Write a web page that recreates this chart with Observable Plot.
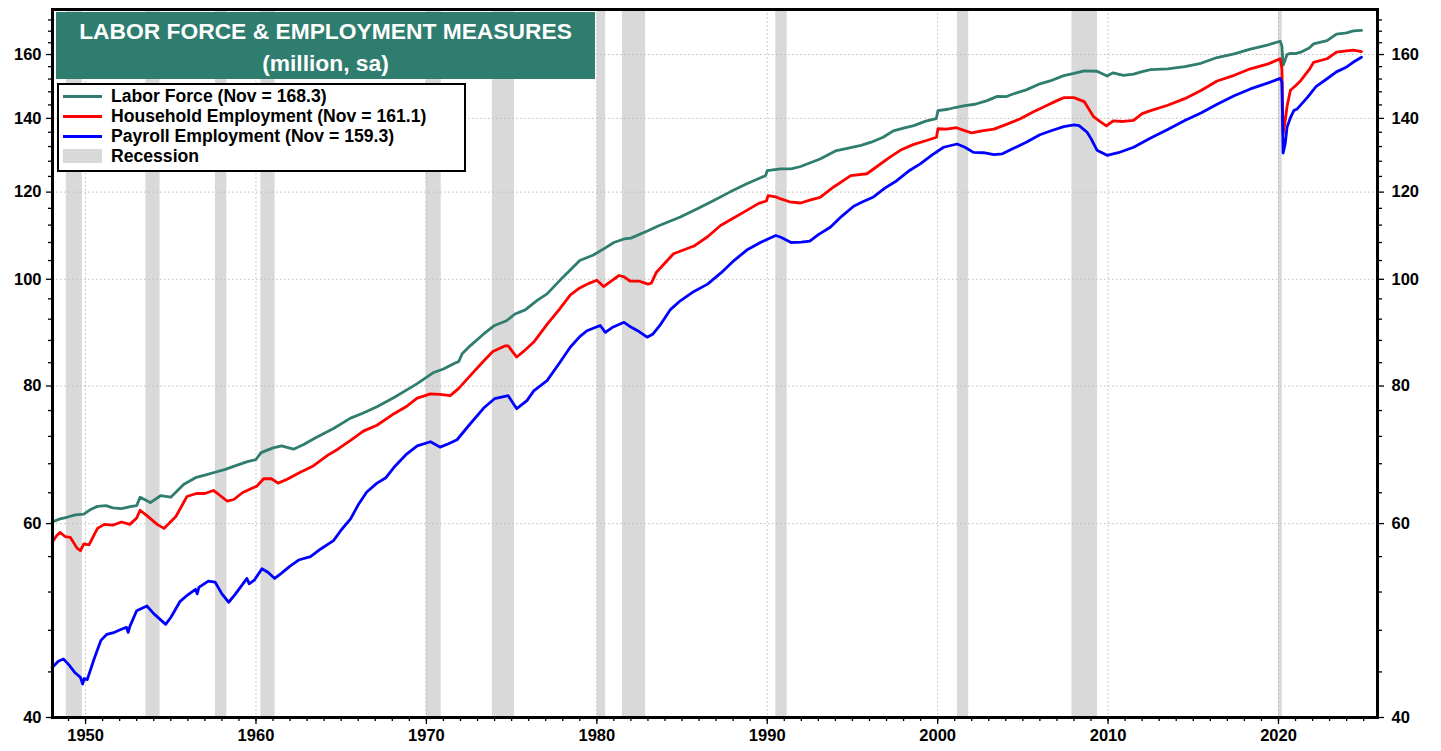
<!DOCTYPE html>
<html><head><meta charset="utf-8">
<script src="https://cdn.jsdelivr.net/npm/d3@7"></script>
<script src="https://cdn.jsdelivr.net/npm/@observablehq/plot@0.6"></script>
<style>
body{margin:0;background:#fff;font-family:"Liberation Sans",Arial,sans-serif;}
#wrap{position:relative;width:1441px;height:751px;overflow:hidden;}
#title{position:absolute;left:56px;top:12px;width:539px;height:67px;background:#2e7d6e;color:#fff;font-weight:bold;font-size:22.8px;text-align:center;line-height:32px;padding-top:3px;box-sizing:border-box;}
#legend{position:absolute;left:57px;top:83px;width:409px;height:89px;border:2px solid #000;background:#fff;box-sizing:border-box;padding-top:1px;}
.row{position:relative;height:20px;line-height:20px;font-weight:bold;font-size:17.6px;color:#000;padding-left:52px;white-space:nowrap;}
.sw{position:absolute;left:4px;top:9px;width:39px;height:3px;}
.sw.box{top:3px;height:14px;}
</style></head>
<body><div id="wrap"><div id="chart"></div>
<div id="title">LABOR FORCE &amp; EMPLOYMENT MEASURES<br>(million, sa)</div>
<div id="legend"></div></div>
<script>
const seriesNames = ["Labor Force (Nov = 168.3)", "Household Employment (Nov = 161.1)", "Payroll Employment (Nov = 159.3)"];
const seriesColors = ["#2e7d6e", "#ff0000", "#0000ff"];
const recessionLabel = "Recession";
const recessionColor = "#d9d9d9";

const laborForce = [[1948.04,60.2],[1948.5,60.6],[1948.9,60.8],[1949.4,61.1],[1949.9,61.2],[1950.3,61.8],[1950.7,62.2],[1951.2,62.3],[1951.6,62.0],[1952.1,61.9],[1952.7,62.2],[1953.0,62.3],[1953.2,63.4],[1953.8,62.7],[1954.4,63.6],[1955.0,63.4],[1955.75,65.1],[1956.5,66.1],[1957.0,66.4],[1957.6,66.8],[1958.2,67.2],[1958.9,67.8],[1959.5,68.3],[1960.0,68.6],[1960.3,69.6],[1961.0,70.3],[1961.5,70.6],[1962.2,70.1],[1962.8,70.8],[1963.5,71.8],[1964.55,73.2],[1965.55,74.8],[1966.3,75.6],[1967.1,76.6],[1968.1,78.1],[1969.0,79.6],[1969.46,80.4],[1970.43,82.3],[1971.0,82.9],[1971.6,83.8],[1971.9,84.2],[1972.1,85.6],[1972.6,87.1],[1973.36,89.2],[1974.0,90.8],[1974.7,91.7],[1975.2,93.0],[1975.8,93.8],[1976.5,95.7],[1977.08,97.0],[1978.0,100.4],[1979.0,104.0],[1979.8,105.2],[1980.5,106.8],[1981.0,108.0],[1981.6,108.8],[1982.0,109.0],[1983.0,110.7],[1983.6,111.8],[1984.9,113.9],[1985.9,115.9],[1986.86,117.9],[1987.8,120.0],[1988.8,122.1],[1989.9,124.2],[1990.0,125.5],[1990.79,126.0],[1991.4,126.0],[1991.96,126.6],[1993.1,128.6],[1994.0,130.8],[1994.7,131.5],[1995.5,132.3],[1996.1,133.2],[1996.8,134.6],[1997.4,136.4],[1998.0,137.2],[1998.6,137.9],[1999.3,139.2],[1999.92,139.9],[2000.02,142.3],[2000.6,142.7],[2001.1,143.3],[2001.6,143.8],[2002.2,144.2],[2002.9,145.3],[2003.5,146.6],[2004.0,146.5],[2004.46,147.4],[2005.2,148.6],[2006.0,150.5],[2006.6,151.4],[2007.4,153.1],[2008.0,153.8],[2008.6,154.6],[2009.35,154.5],[2009.94,153.0],[2010.3,154.0],[2010.9,153.2],[2011.5,153.6],[2012.0,154.4],[2012.5,155.0],[2013.5,155.3],[2014.5,156.0],[2015.45,157.1],[2016.4,159.0],[2017.4,160.2],[2018.35,161.8],[2019.4,163.3],[2020.1,164.5],[2020.2,162.9],[2020.27,156.5],[2020.4,158.3],[2020.5,160.0],[2020.7,160.4],[2021.0,160.3],[2021.3,160.8],[2021.8,162.2],[2022.06,163.6],[2022.85,164.7],[2023.4,167.0],[2024.0,167.4],[2024.4,168.1],[2024.87,168.3]];

const householdEmployment = [[1948.04,57.7],[1948.3,58.5],[1948.5,58.9],[1948.8,58.4],[1949.1,58.3],[1949.5,57.0],[1949.7,56.7],[1949.9,57.5],[1950.2,57.4],[1950.7,59.4],[1951.1,59.9],[1951.6,59.8],[1952.1,60.2],[1952.6,59.9],[1953.0,60.7],[1953.2,61.7],[1953.6,61.0],[1954.2,59.9],[1954.6,59.4],[1955.3,60.9],[1955.95,63.5],[1956.5,63.9],[1957.0,63.9],[1957.5,64.3],[1957.8,63.8],[1958.3,62.9],[1958.7,63.1],[1959.2,64.0],[1959.67,64.5],[1960.06,64.9],[1960.45,65.9],[1960.9,65.9],[1961.3,65.3],[1961.8,65.8],[1962.6,66.8],[1963.3,67.6],[1964.2,69.2],[1964.8,70.1],[1965.55,71.4],[1966.3,72.8],[1967.1,73.7],[1968.1,75.5],[1968.8,76.6],[1969.46,78.0],[1970.24,78.7],[1970.8,78.6],[1971.4,78.4],[1971.9,79.6],[1972.4,81.2],[1973.36,84.3],[1973.9,86.0],[1974.6,87.0],[1974.8,87.0],[1975.3,85.0],[1975.7,86.0],[1976.3,87.7],[1977.08,91.0],[1977.8,93.9],[1978.45,96.8],[1979.0,98.2],[1979.5,99.1],[1980.0,99.8],[1980.4,98.5],[1980.8,99.5],[1981.3,100.8],[1981.6,100.5],[1981.97,99.6],[1982.5,99.6],[1983.0,99.0],[1983.2,99.2],[1983.5,101.5],[1984.5,105.5],[1985.7,107.2],[1986.5,109.3],[1987.26,111.9],[1988.0,113.6],[1988.8,115.5],[1989.5,117.2],[1989.95,117.8],[1990.05,119.1],[1990.5,118.8],[1990.8,118.3],[1991.3,117.6],[1991.96,117.3],[1992.5,118.0],[1993.1,118.7],[1993.9,121.3],[1994.9,124.2],[1995.85,124.7],[1996.5,126.8],[1997.2,129.1],[1997.9,131.2],[1998.6,132.6],[1999.3,133.6],[1999.93,134.6],[2000.02,137.0],[2000.5,136.9],[2001.1,137.3],[2001.5,136.6],[2002.0,135.8],[2002.6,136.4],[2003.3,136.9],[2004.0,138.2],[2004.85,139.9],[2005.6,141.9],[2006.4,143.8],[2007.0,145.3],[2007.4,146.2],[2008.0,146.2],[2008.6,145.0],[2009.15,140.5],[2009.5,139.2],[2009.9,137.8],[2010.3,139.3],[2010.9,139.1],[2011.5,139.4],[2012.0,141.4],[2012.5,142.3],[2013.5,143.9],[2014.5,145.9],[2015.45,148.4],[2016.4,151.4],[2017.4,153.2],[2018.35,155.3],[2019.4,156.9],[2020.1,158.6],[2020.2,155.4],[2020.27,135.5],[2020.4,139.5],[2020.5,143.5],[2020.7,148.5],[2021.0,149.9],[2021.3,151.5],[2021.8,155.0],[2022.06,157.4],[2022.85,158.6],[2023.4,160.8],[2024.0,161.2],[2024.4,161.5],[2024.87,161.0]];

const payrollEmployment = [[1948.04,44.4],[1948.4,45.0],[1948.7,45.2],[1949.0,44.7],[1949.4,43.9],[1949.7,43.5],[1949.83,42.9],[1949.92,43.4],[1950.1,43.3],[1950.5,45.2],[1950.9,47.0],[1951.25,47.6],[1951.7,47.8],[1952.1,48.1],[1952.4,48.3],[1952.5,47.8],[1952.6,48.4],[1953.0,50.0],[1953.6,50.5],[1954.0,49.7],[1954.7,48.6],[1955.0,49.3],[1955.55,51.0],[1956.0,51.7],[1956.45,52.3],[1956.55,51.8],[1956.65,52.5],[1957.2,53.2],[1957.6,53.1],[1958.0,51.8],[1958.4,50.9],[1958.8,51.8],[1959.47,53.5],[1959.6,52.9],[1959.9,53.3],[1960.35,54.6],[1960.7,54.2],[1961.1,53.5],[1961.5,54.1],[1962.0,54.9],[1962.5,55.6],[1963.2,56.0],[1963.8,56.9],[1964.55,57.9],[1965.0,59.2],[1965.55,60.6],[1966.0,62.4],[1966.5,64.1],[1967.1,65.3],[1967.6,66.0],[1968.1,67.5],[1968.8,69.3],[1969.46,70.6],[1970.24,71.2],[1970.8,70.4],[1971.3,70.9],[1971.8,71.5],[1972.5,73.7],[1973.36,76.4],[1974.0,77.9],[1974.8,78.4],[1975.3,76.3],[1975.9,77.6],[1976.3,79.2],[1977.08,80.9],[1977.8,83.9],[1978.45,86.8],[1979.0,88.7],[1979.42,89.8],[1980.2,90.8],[1980.5,89.5],[1980.9,90.4],[1981.6,91.4],[1982.0,90.5],[1982.5,89.6],[1982.95,88.6],[1983.3,89.2],[1983.7,90.8],[1984.3,93.8],[1984.9,95.6],[1985.7,97.5],[1986.5,99.0],[1987.3,101.4],[1988.05,104.0],[1988.8,106.3],[1989.6,108.0],[1990.5,109.6],[1990.8,109.2],[1991.4,108.0],[1992.0,108.1],[1992.5,108.3],[1993.0,109.8],[1993.7,111.5],[1994.4,114.2],[1995.07,116.5],[1995.6,117.6],[1996.24,118.8],[1996.9,121.0],[1997.6,122.9],[1998.3,125.4],[1998.98,127.3],[1999.7,129.8],[2000.35,131.8],[2001.14,132.7],[2001.6,131.8],[2002.1,130.4],[2002.7,130.3],[2003.3,129.8],[2003.8,130.0],[2004.46,131.5],[2005.2,133.2],[2006.0,135.3],[2006.7,136.5],[2007.4,137.6],[2008.0,138.1],[2008.3,137.9],[2008.77,136.0],[2009.0,134.2],[2009.35,131.0],[2009.94,129.6],[2010.6,130.3],[2011.5,131.8],[2012.5,134.4],[2013.5,136.8],[2014.5,139.4],[2015.45,141.6],[2016.4,144.2],[2017.4,146.8],[2018.35,148.9],[2019.4,150.8],[2020.1,152.2],[2020.2,151.0],[2020.27,130.2],[2020.4,133.0],[2020.5,137.4],[2020.7,140.2],[2020.9,142.3],[2021.1,142.8],[2021.7,146.3],[2022.2,149.6],[2022.85,152.1],[2023.4,154.3],[2024.0,155.9],[2024.4,157.5],[2024.87,159.1]];

const recessionStart = [1948.87,1953.54,1957.62,1960.29,1969.98,1973.87,1980.02,1981.5,1990.5,2001.16,2007.88,2020.0];
const recessionEnd   = [1949.81,1954.37,1958.29,1961.12,1970.87,1975.17,1980.52,1982.86,1991.17,2001.82,2009.38,2020.22];

const yMajorTicks = [40, 60, 80, 100, 120, 140, 160];
const yMinorTicks = [44,48,52,56,64,68,72,76,84,88,92,96,104,108,112,116,124,128,132,136,144,148,152,156,164,168,172];
const xMajorTicks = [1950, 1960, 1970, 1980, 1990, 2000, 2010, 2020];
const xMinorTicks = d3.range(1949, 2026);

const xDomain = [1948.06, 2025.81];
const yDomain = [40, 175.8];

const rows = [];
[laborForce, householdEmployment, payrollEmployment].forEach((s, i) => {
  s.forEach(([t, v]) => rows.push({t, v, series: seriesNames[i]}));
});
const recessions = recessionStart.map((s, i) => ({start: s, end: recessionEnd[i]}));

const tickStyle = {stroke: "#000", strokeWidth: 1.3, label: null};

const chart = Plot.plot({
  width: 1441, height: 751,
  marginLeft: 52, marginRight: 64, marginTop: 9, marginBottom: 34,
  x: {domain: xDomain, axis: null},
  y: {type: "log", domain: yDomain, axis: null},
  color: {domain: seriesNames, range: seriesColors},
  style: {fontFamily: "'Liberation Sans', Arial, sans-serif", fontSize: "16.5px", fontWeight: "bold", color: "#000", background: "#fff", overflow: "visible"},
  marks: [
    Plot.rect(recessions, {x1: "start", x2: "end", fill: recessionColor}),
    Plot.gridY(yMajorTicks, {stroke: "#bdbdbd", strokeOpacity: 1, strokeDasharray: "1.5,2.5"}),
    Plot.gridX(xMajorTicks, {stroke: "#bdbdbd", strokeOpacity: 1, strokeDasharray: "1.5,2.5"}),
    Plot.line(rows, {x: "t", y: "v", z: "series", stroke: "series", strokeWidth: 2.8, strokeLinejoin: "round"}),
    Plot.axisY(yMajorTicks, {anchor: "left", tickSize: 6, tickPadding: 5, tickFormat: d => String(d), ...tickStyle}),
    Plot.axisY(yMinorTicks, {anchor: "left", tickSize: 4, tickFormat: () => "", ...tickStyle}),
    Plot.axisY(yMajorTicks, {anchor: "right", tickSize: 6, tickPadding: 8, tickFormat: d => String(d), ...tickStyle}),
    Plot.axisY(yMinorTicks, {anchor: "right", tickSize: 4, tickFormat: () => "", ...tickStyle}),
    Plot.axisX(xMajorTicks, {anchor: "bottom", tickSize: 7, tickPadding: 5, tickFormat: d => String(d), ...tickStyle}),
    Plot.axisX(xMinorTicks, {anchor: "bottom", tickSize: 4, tickFormat: () => "", ...tickStyle}),
    Plot.frame({stroke: "#000", strokeWidth: 3})
  ]
});
document.getElementById("chart").appendChild(chart);

const legend = document.getElementById("legend");
seriesNames.forEach((name, i) => {
  const r = document.createElement("div");
  r.className = "row";
  r.innerHTML = `<span class="sw" style="background:${seriesColors[i]}"></span>${name}`;
  legend.appendChild(r);
});
const rr = document.createElement("div");
rr.className = "row";
rr.innerHTML = `<span class="sw box" style="background:${recessionColor}"></span>${recessionLabel}`;
legend.appendChild(rr);
</script>
</body></html>
